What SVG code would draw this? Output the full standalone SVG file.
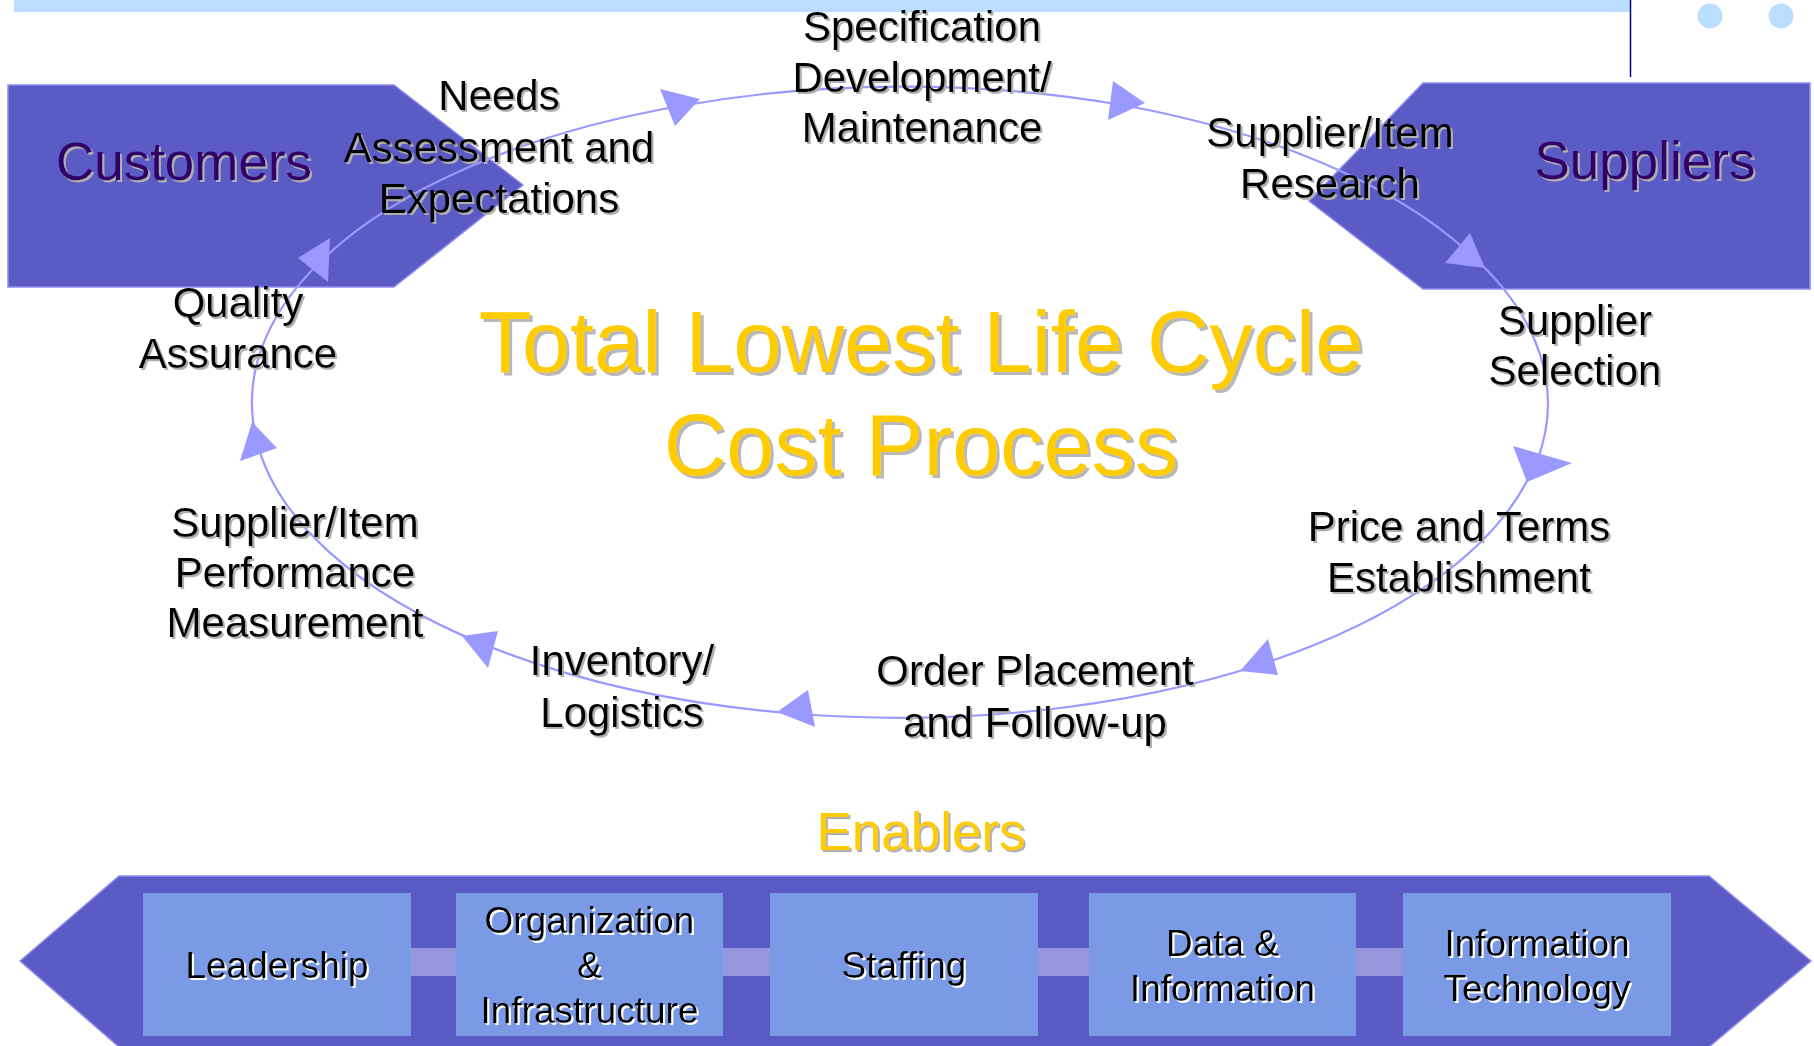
<svg xmlns="http://www.w3.org/2000/svg" width="1814" height="1046" viewBox="0 0 1814 1046">
  <defs>
    <filter id="shGray" x="-5%" y="-10%" width="115%" height="140%">
      <feDropShadow dx="2" dy="2" stdDeviation="0" flood-color="#b0b0b0" flood-opacity="1"/>
    </filter>
    <filter id="shTitle" x="-5%" y="-10%" width="115%" height="140%">
      <feDropShadow dx="3" dy="3" stdDeviation="0" flood-color="#b8b8b8" flood-opacity="1"/>
    </filter>
    <filter id="shWhite" x="-5%" y="-10%" width="115%" height="140%">
      <feDropShadow dx="2" dy="2" stdDeviation="0" flood-color="#ffffff" flood-opacity="1"/>
    </filter>
  </defs>
  <style>
    .band { fill: #5b5bc6; stroke: #8d8def; stroke-width: 1.5; }
    .box { fill: #7b9ae6; }
    .link { fill: #9696dc; }
    .deco { fill: #bbddff; }
    .arc { fill: none; stroke: #9999ff; stroke-width: 2.2; }
    .head { fill: #9999ff; }
    text { font-family: "Liberation Sans", Arial, Helvetica, sans-serif; text-anchor: middle; }
    .lbl { font-size: 42px; fill: #000000; }
    .party { font-size: 53px; fill: #330066; }
    .title { font-size: 86.5px; fill: #ffcc00; }
    .enab { font-size: 53px; fill: #ffcc00; }
    .btxt { font-size: 37px; fill: #000000; }
  </style>

  <rect width="1814" height="1046" fill="#ffffff"/>

  <!-- header decoration -->
  <g id="header">
    <rect class="deco" x="14" y="0" width="1617" height="12"/>
    <line x1="1630.5" y1="0" x2="1630.5" y2="77" stroke="#000080" stroke-width="1.5"/>
    <ellipse class="deco" cx="1710" cy="16" rx="12.5" ry="12.5"/>
    <ellipse class="deco" cx="1781" cy="16" rx="12.5" ry="12.5"/>
  </g>

  <!-- end parties -->
  <g id="customers">
    <polygon class="band" points="8,85 394,85 523,185 394,287 8,287"/>
    <text class="party" x="184" y="180" filter="url(#shGray)">Customers</text>
  </g>
  <g id="suppliers">
    <polygon class="band" points="1423,83 1810,83 1810,289 1423,289 1309,201"/>
    <text class="party" x="1645" y="179" filter="url(#shGray)">Suppliers</text>
  </g>

  <!-- process cycle: elliptical arcs (cx 900, cy 403, rx 648, ry 315) with arrowheads -->
  <g id="connectors">
    <g id="c-needs">
      <path class="arc" d="M318,264 A648,315 0 0 1 680,106"/>
      <polygon class="head" points="660,89 675,126 700,99"/>
    </g>
    <g id="c-spec">
      <path class="arc" d="M680,106 A648,315 0 0 1 1122,105"/>
      <polygon class="head" points="1113,81 1108,120 1145,103"/>
    </g>
    <g id="c-research">
      <path class="arc" d="M1122,105 A648,315 0 0 1 1467,251"/>
      <polygon class="head" points="1470,233 1445,263 1485,268"/>
    </g>
    <g id="c-selection">
      <path class="arc" d="M1467,251 A648,315 0 0 1 1537,461"/>
      <polygon class="head" points="1513,446 1527,482 1572,463"/>
    </g>
    <g id="c-price">
      <path class="arc" d="M1530,475 A648,315 0 0 1 1262,664"/>
      <polygon class="head" points="1268,639 1278,675 1240,671"/>
    </g>
    <g id="c-order">
      <path class="arc" d="M1262,664 A648,315 0 0 1 800,714"/>
      <polygon class="head" points="808,690 815,727 777,712"/>
    </g>
    <g id="c-inventory">
      <path class="arc" d="M800,714 A648,315 0 0 1 483,644"/>
      <polygon class="head" points="498,631 488,668 462,636"/>
    </g>
    <g id="c-performance">
      <path class="arc" d="M483,644 A648,315 0 0 1 256,438"/>
      <polygon class="head" points="277,448 240,461 252,422"/>
    </g>
    <g id="c-quality">
      <path class="arc" d="M256,438 A648,315 0 0 1 318,264"/>
      <polygon class="head" points="298,258 328,282 330,238"/>
    </g>
  </g>

  <!-- cycle step labels -->
  <g id="step-needs" filter="url(#shGray)">
    <text class="lbl" x="499" y="110">Needs</text>
    <text class="lbl" x="499" y="162">Assessment and</text>
    <text class="lbl" x="499" y="213">Expectations</text>
  </g>
  <g id="step-spec" filter="url(#shGray)">
    <text class="lbl" x="922" y="41">Specification</text>
    <text class="lbl" x="922" y="92">Development/</text>
    <text class="lbl" x="922" y="142">Maintenance</text>
  </g>
  <g id="step-research" filter="url(#shGray)">
    <text class="lbl" x="1330" y="147">Supplier/Item</text>
    <text class="lbl" x="1330" y="198">Research</text>
  </g>
  <g id="step-selection" filter="url(#shGray)">
    <text class="lbl" x="1575" y="335">Supplier</text>
    <text class="lbl" x="1575" y="385">Selection</text>
  </g>
  <g id="step-price" filter="url(#shGray)">
    <text class="lbl" x="1459" y="541">Price and Terms</text>
    <text class="lbl" x="1459" y="592">Establishment</text>
  </g>
  <g id="step-order" filter="url(#shGray)">
    <text class="lbl" x="1035" y="685">Order Placement</text>
    <text class="lbl" x="1035" y="737">and Follow-up</text>
  </g>
  <g id="step-inventory" filter="url(#shGray)">
    <text class="lbl" x="622" y="675">Inventory/</text>
    <text class="lbl" x="622" y="727">Logistics</text>
  </g>
  <g id="step-performance" filter="url(#shGray)">
    <text class="lbl" x="295" y="537">Supplier/Item</text>
    <text class="lbl" x="295" y="587">Performance</text>
    <text class="lbl" x="295" y="637">Measurement</text>
  </g>
  <g id="step-quality" filter="url(#shGray)">
    <text class="lbl" x="238" y="317">Quality</text>
    <text class="lbl" x="238" y="368">Assurance</text>
  </g>

  <!-- centre title -->
  <g id="title" filter="url(#shTitle)">
    <text class="title" x="921" y="372">Total Lowest Life Cycle</text>
    <text class="title" x="921" y="475">Cost Process</text>
  </g>

  <!-- enablers band -->
  <g id="enablers-label" filter="url(#shGray)">
    <text class="enab" x="921" y="850">Enablers</text>
  </g>
  <g id="enablers-band">
    <polygon class="band" points="20,961 119,876 1709,876 1811,961 1709,1047 119,1047"/>
    <rect class="link" x="411" y="948" width="45" height="28"/>
    <rect class="link" x="723" y="948" width="47" height="28"/>
    <rect class="link" x="1038" y="948" width="51" height="28"/>
    <rect class="link" x="1356" y="948" width="47" height="28"/>
  </g>
  <g id="enabler-leadership">
    <rect class="box" x="143" y="893" width="268" height="143"/>
    <text class="btxt" x="277" y="978" filter="url(#shWhite)">Leadership</text>
  </g>
  <g id="enabler-organization">
    <rect class="box" x="456" y="893" width="267" height="143"/>
    <g filter="url(#shWhite)">
      <text class="btxt" x="589.5" y="933">Organization</text>
      <text class="btxt" x="589.5" y="978">&amp;</text>
      <text class="btxt" x="589.5" y="1023">Infrastructure</text>
    </g>
  </g>
  <g id="enabler-staffing">
    <rect class="box" x="770" y="893" width="268" height="143"/>
    <text class="btxt" x="904" y="978" filter="url(#shWhite)">Staffing</text>
  </g>
  <g id="enabler-data">
    <rect class="box" x="1089" y="893" width="267" height="143"/>
    <g filter="url(#shWhite)">
      <text class="btxt" x="1222.5" y="956">Data &amp;</text>
      <text class="btxt" x="1222.5" y="1001">Information</text>
    </g>
  </g>
  <g id="enabler-it">
    <rect class="box" x="1403" y="893" width="268" height="143"/>
    <g filter="url(#shWhite)">
      <text class="btxt" x="1537" y="956">Information</text>
      <text class="btxt" x="1537" y="1001">Technology</text>
    </g>
  </g>
</svg>
